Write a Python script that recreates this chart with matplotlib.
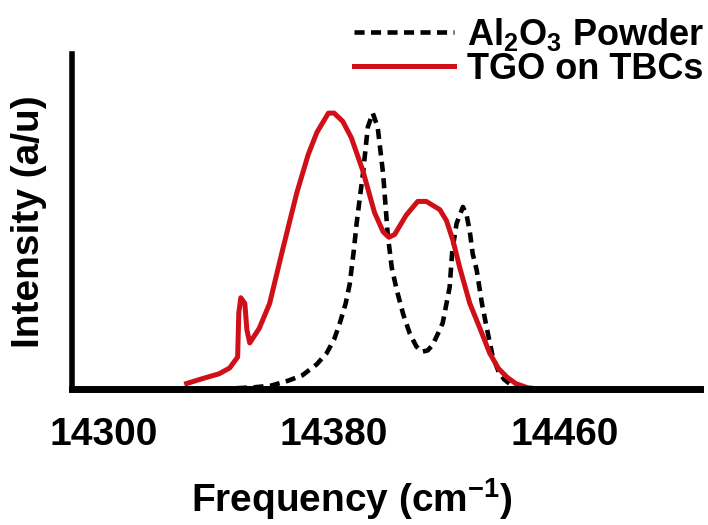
import numpy as np
from matplotlib import pyplot as plt

plt.rcParams['mathtext.default'] = 'regular'

# Al2O3 powder spectrum (dashed black)
powder_x = [14289, 14340, 14346, 14352, 14358, 14364, 14369, 14374, 14377.4, 14380,
            14382, 14384, 14385.4, 14386.8, 14387.8, 14389, 14390, 14391.7, 14393.4,
            14395.1, 14397, 14398.6, 14400, 14401.7, 14404, 14406.3, 14408.5, 14410.4,
            14412.5, 14414.2, 14416, 14417.7, 14419, 14420.1, 14421, 14422.5, 14424.7,
            14426, 14427.1, 14428.1, 14429.5, 14431.3, 14433, 14435, 14437, 14439,
            14442, 14445]
powder_y = [0, 0, 0.003, 0.006, 0.012, 0.03, 0.05, 0.09, 0.13, 0.18,
            0.24, 0.31, 0.38, 0.5, 0.6, 0.7, 0.78, 0.95, 1.0,
            0.95, 0.78, 0.56, 0.44, 0.36, 0.27, 0.2, 0.155, 0.135,
            0.14, 0.16, 0.2, 0.24, 0.31, 0.37, 0.5, 0.6, 0.66,
            0.63, 0.57, 0.49, 0.43, 0.31, 0.22, 0.12, 0.065, 0.035,
            0.01, 0.0]

# TGO on TBCs spectrum (red)
tgo_x = [14328.8, 14335, 14340, 14343.7, 14346.5, 14346.9, 14347.6, 14349.0, 14349.7,
         14350.7, 14354, 14357.6, 14362, 14367, 14371, 14374, 14378, 14380, 14383,
         14386, 14390, 14394, 14397, 14399, 14401, 14405, 14409, 14412, 14416.7,
         14419, 14421.2, 14423.6, 14427.1, 14430.6, 14434, 14437, 14440, 14443,
         14447, 14451]
tgo_y = [0.02, 0.04, 0.055, 0.076, 0.116, 0.276, 0.331, 0.31, 0.215,
         0.167, 0.22, 0.31, 0.50, 0.71, 0.85, 0.93, 1.0, 1.0, 0.97,
         0.91, 0.79, 0.64, 0.57, 0.55, 0.56, 0.63, 0.68, 0.68, 0.65,
         0.61, 0.54, 0.44, 0.31, 0.22, 0.13, 0.075, 0.043, 0.02,
         0.005, 0.0]

xticks = [14300, 14380, 14460]

fig = plt.figure(figsize=(7.08, 5.25), dpi=100)
ax = fig.add_axes([0.1017, 0.259, 0.887, 0.638])

ax.plot(powder_x, powder_y, color='black', lw=3.3, dashes=(2.2, 1.4),
        label='Al$_2$O$_3$ Powder')
ax.plot(tgo_x, tgo_y, color='#d01018', lw=3.6, label='TGO on TBCs')

ax.set_xlim(14289, 14507)
ax.set_ylim(0, 1.214)
ax.set_xticks(xticks)
ax.set_yticks([])
ax.tick_params(axis='x', length=0, pad=20)
for lab in ax.get_xticklabels():
    lab.set_fontfamily('Liberation Sans')
    lab.set_fontweight('bold')
    lab.set_fontsize(28)

ax.spines['top'].set_visible(False)
ax.spines['right'].set_visible(False)
ax.spines['bottom'].set_linewidth(5)
ax.spines['left'].set_linewidth(4)

ax.set_xlabel('Frequency (cm$^{-1}$)', fontsize=28, fontweight='bold',
              family='Liberation Sans')
ax.xaxis.set_label_coords(0.446, -0.26)
ax.set_ylabel('Intensity (a/u)', fontsize=28, fontweight='bold',
              family='Liberation Sans', labelpad=18)

leg = ax.legend(loc='upper right', bbox_to_anchor=(0.995, 0.97),
                bbox_transform=fig.transFigure, frameon=False,
                prop={'family': 'Liberation Sans', 'weight': 'bold', 'size': 26},
                handlelength=2.77, handletextpad=0.36, labelspacing=-0.03,
                borderpad=0, borderaxespad=0)

fig.savefig('out.png', dpi=100)
